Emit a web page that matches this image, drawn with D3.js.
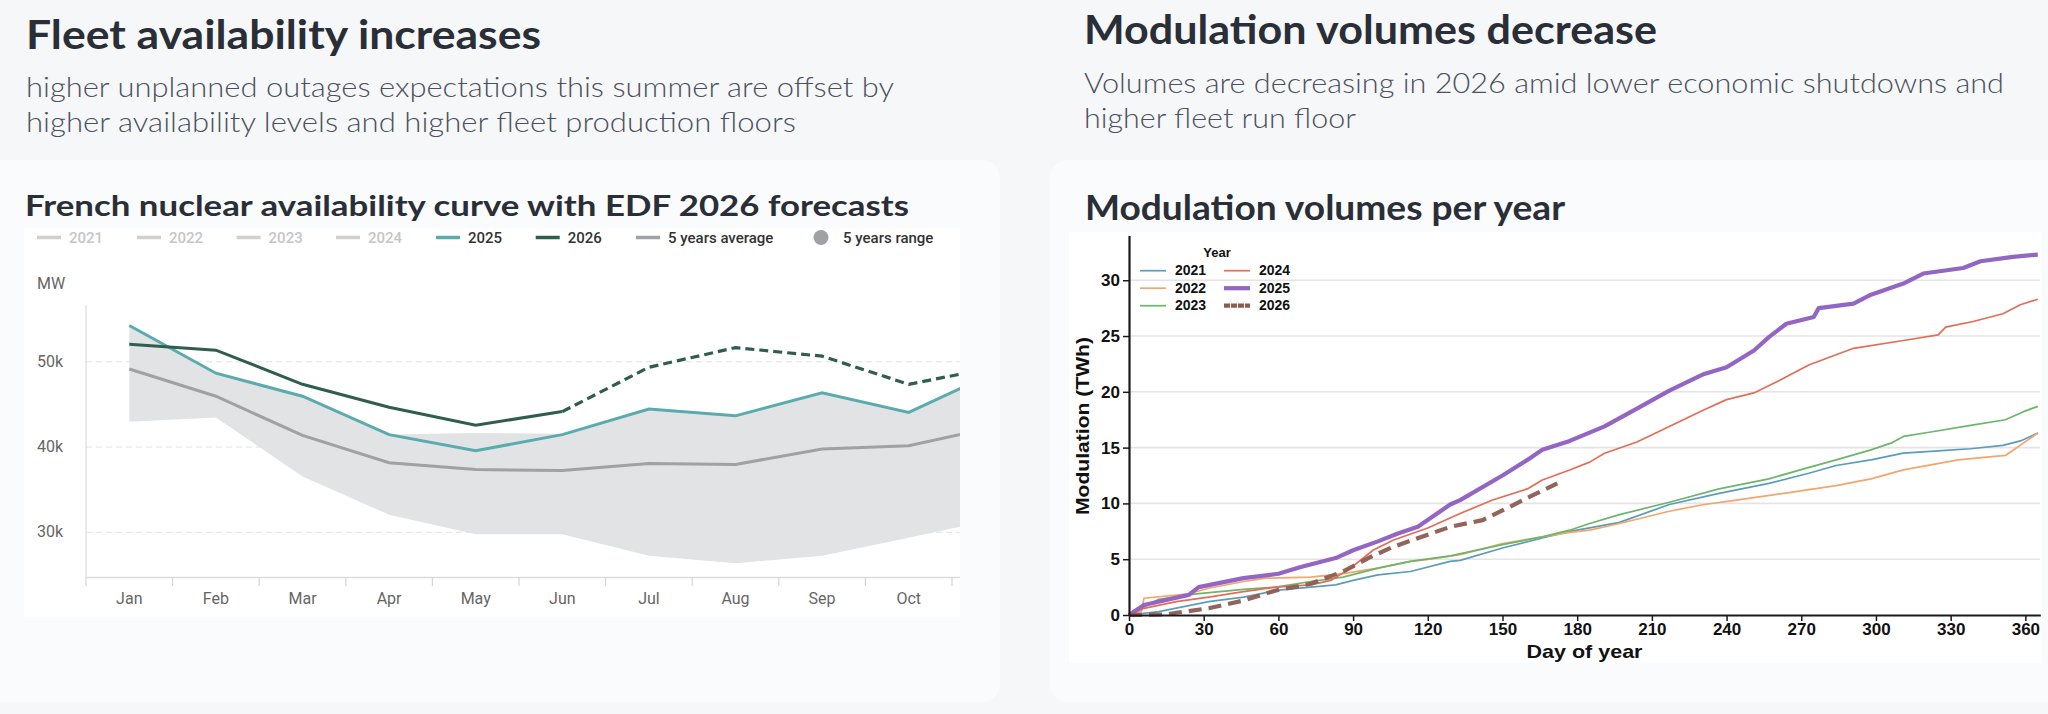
<!DOCTYPE html>
<html><head><meta charset="utf-8">
<script src="https://cdn.jsdelivr.net/npm/d3@7"></script>
<style>body{margin:0;background:#f6f7f9;} svg{display:block}</style>
</head><body>
<svg id="c" width="2048" height="714"></svg>
<script>
// ---------------- DATA : left chart (MW) ----------------
const months = ["Jan","Feb","Mar","Apr","May","Jun","Jul","Aug","Sep","Oct","Nov","Dec"];
const avail2025 = [54200,48600,45900,41400,39500,41400,44400,43600,46300,44000,48700];
const avail2026 = [52000,51300,47300,44600,42500,44100,49300,51600,50600,47300,49300];
const actual2026Count = 6; // Jan..Jun solid, rest EDF forecast (dashed)
const avg5 = [49100,45900,41300,38100,37300,37200,38000,37900,39700,40100,42300];
const rangeLow = [42900,43400,36500,32000,29700,29700,27200,26300,27200,29300,31500];
const rangeHigh = [54200,48600,45900,41400,41600,41500,44400,43600,46300,44000,48700];
const yTicksMW = [30000,40000,50000];
const legendLeft = ["2021","2022","2023","2024","2025","2026","5 years average","5 years range"];

// ---------------- DATA : right chart (cumulative TWh by day of year) ----------------
const mod2021 = [[0,0],[12,0.3],[32,1.2],[46,1.6],[59,2.2],[73,2.5],[83,2.7],[90,3.1],[100,3.6],[113,3.9],[129,4.8],[133,4.9],[150,6.0],[166,6.9],[177,7.5],[185,7.8],[197,8.3],[217,9.9],[237,10.9],[257,11.8],[273,12.7],[284,13.4],[298,13.9],[311,14.5],[325,14.7],[338,14.9],[351,15.2],[358,15.6],[365,16.3]];
const mod2022 = [[0,0],[5,0.3],[6,1.5],[24,1.9],[32,2.4],[46,3.0],[55,3.3],[73,3.4],[86,3.7],[100,4.2],[113,4.8],[121,5.0],[133,5.4],[150,6.4],[166,7.0],[177,7.4],[185,7.6],[197,8.2],[217,9.3],[231,9.9],[244,10.3],[263,10.9],[284,11.6],[298,12.2],[311,13.0],[333,13.9],[352,14.3],[365,16.3]];
const mod2023 = [[0,0],[5,0.6],[12,1.4],[27,1.9],[46,2.3],[59,2.5],[73,3.0],[86,3.4],[100,4.2],[113,4.8],[129,5.3],[150,6.3],[166,7.0],[177,7.6],[185,8.2],[197,9.0],[217,10.1],[237,11.3],[257,12.2],[271,13.1],[284,13.9],[298,14.8],[306,15.4],[311,16.0],[322,16.4],[338,17.0],[352,17.5],[359,18.2],[365,18.7]];
const mod2024 = [[0,0],[6,0.6],[19,1.2],[32,1.6],[46,2.1],[59,2.5],[73,2.7],[81,3.1],[89,4.2],[98,5.8],[106,6.7],[120,7.8],[133,9.1],[146,10.3],[160,11.3],[166,12.1],[177,13.0],[185,13.7],[191,14.5],[204,15.5],[217,16.9],[231,18.4],[240,19.3],[251,19.9],[261,21.0],[273,22.4],[291,23.9],[311,24.6],[325,25.1],[328,25.8],[339,26.3],[351,27.0],[358,27.8],[365,28.3]];
const mod2025 = [[0,0],[6,0.9],[24,1.8],[28,2.5],[46,3.3],[60,3.7],[69,4.3],[83,5.1],[90,5.8],[100,6.6],[108,7.3],[116,7.9],[129,9.9],[133,10.3],[150,12.5],[160,13.9],[166,14.8],[177,15.6],[191,16.9],[204,18.5],[217,20.1],[231,21.6],[240,22.2],[251,23.7],[257,24.9],[264,26.1],[275,26.7],[277,27.5],[291,27.9],[298,28.7],[311,29.7],[319,30.6],[335,31.1],[342,31.7],[355,32.1],[365,32.3]];
const mod2026 = [[0,0],[15,0.05],[19,0.2],[32,0.6],[46,1.3],[59,2.2],[73,2.8],[86,3.9],[97,5.2],[106,6.1],[120,7.2],[129,7.9],[142,8.5],[153,9.7],[161,10.6],[172,11.8]];
const modYears = ["2021","2022","2023","2024","2025","2026"];
const dayTicks = [0,30,60,90,120,150,180,210,240,270,300,330,360];
const twhTicks = [0,5,10,15,20,25,30];

// ---------------- DRAW ----------------
const svg = d3.select("#c");
const TITLE = "Lato, 'Noto Sans', sans-serif";
svg.append("rect").attr("width",2048).attr("height",714).attr("fill","#f6f7f9");

function txt(x,y,s,size,weight,color,len,family){
  const t = svg.append("text").attr("x",x).attr("y",y).text(s)
    .attr("font-family",family||TITLE).attr("font-size",size).attr("font-weight",weight).attr("fill",color);
  if(len) t.attr("textLength",len).attr("lengthAdjust","spacingAndGlyphs");
  return t;
}
// headers
txt(26,49,"Fleet availability increases",40,700,"#2a2e37",515);
txt(26,97,"higher unplanned outages expectations this summer are offset by",27,300,"#4b505c",868);
txt(26,132,"higher availability levels and higher fleet production floors",27,300,"#4b505c",770);
txt(1084,44,"Modulation volumes decrease",40,700,"#2a2e37",573);
txt(1084,93,"Volumes are decreasing in 2026 amid lower economic shutdowns and",27,300,"#4b505c",920);
txt(1084,128,"higher fleet run floor",27,300,"#4b505c",272);

// cards
svg.append("rect").attr("x",-20).attr("y",160).attr("width",1020).attr("height",542).attr("rx",18).attr("fill","#fafbfc");
svg.append("rect").attr("x",1050).attr("y",160).attr("width",1030).attr("height",542).attr("rx",18).attr("fill","#fafbfc");
txt(25,216,"French nuclear availability curve with EDF 2026 forecasts",29,700,"#2a2e37",884);
txt(1085,220,"Modulation volumes per year",35,700,"#2a2e37",480);
svg.append("rect").attr("x",24).attr("y",228).attr("width",936).attr("height",389).attr("fill","#fff");
svg.append("rect").attr("x",1069).attr("y",232).attr("width",973).attr("height",431).attr("fill","#fff");

// ======== LEFT CHART ========
const LF = "Roboto, 'Noto Sans', sans-serif";
const xL = d3.scaleBand().domain(months).range([86, 86+12*86.6]);
const yL = d3.scaleLinear().domain([24700,56600]).range([577,305]);
const cx = (i)=> xL(months[i]) + xL.bandwidth()/2;
const left = svg.append("g");
svg.append("defs").append("clipPath").attr("id","clipL").append("rect")
  .attr("x",60).attr("y",228).attr("width",900).attr("height",400);

// y axis with gridlines
const yAx = left.append("g").attr("transform","translate(86,0)")
  .call(d3.axisLeft(yL).tickValues(yTicksMW).tickSize(-874).tickPadding(23).tickFormat(d=>d/1000+"k"));
yAx.select(".domain").remove();
yAx.selectAll(".tick line").attr("stroke","#e2e2e2").attr("stroke-dasharray","6,4");
yAx.selectAll(".tick text").attr("font-family",LF).attr("font-size",16).attr("fill","#666");
left.append("line").attr("x1",86).attr("x2",86).attr("y1",305).attr("y2",577).attr("stroke","#e3e3e3").attr("stroke-width",1.5);
txt(37,289,"MW",16,400,"#666",null,LF);

// x axis labels (clipped wrapper without transform)
const xWrap = left.append("g").attr("clip-path","url(#clipL)");
const xAx = xWrap.append("g").attr("transform","translate(0,577)")
  .call(d3.axisBottom(xL).tickSize(0).tickSizeOuter(0));
xAx.select(".domain").attr("stroke","#dcdcdc").attr("stroke-width",1.5);
xAx.selectAll(".tick text").attr("font-family",LF).attr("font-size",16).attr("fill","#666").attr("dy",null).attr("y",27);
// boundary ticks
xWrap.append("g").selectAll("line").data(months).join("line")
  .attr("x1",d=>xL(d)).attr("x2",d=>xL(d)).attr("y1",577).attr("y2",586).attr("stroke","#d6d6d6").attr("stroke-width",1.2);

const plotL = left.append("g").attr("clip-path","url(#clipL)");
const area = d3.area().x((d,i)=>cx(i)).y0((d,i)=>yL(rangeLow[i])).y1(d=>yL(d));
plotL.append("path").datum(rangeHigh).attr("d",area).attr("fill","#e1e3e5");
const lineL = d3.line().x(d=>cx(d[0])).y(d=>yL(d[1]));
const idx = a => a.map((v,i)=>[i,v]);
plotL.append("path").datum(idx(avg5)).attr("d",lineL).attr("fill","none").attr("stroke","#9fa1a4").attr("stroke-width",3);
plotL.append("path").datum(idx(avail2025)).attr("d",lineL).attr("fill","none").attr("stroke","#5aabae").attr("stroke-width",3);
plotL.append("path").datum(idx(avail2026).slice(0,actual2026Count)).attr("d",lineL).attr("fill","none").attr("stroke","#2f5e4c").attr("stroke-width",3);
plotL.append("path").datum(idx(avail2026).slice(actual2026Count-1)).attr("d",lineL).attr("fill","none").attr("stroke","#2f5e4c").attr("stroke-width",3.2).attr("stroke-dasharray","9,5");

// legend
const legX = [37,137,236.6,336,436,535.7,636,821];
const legCol = ["#cfcfcf","#cfcfcf","#cfcfcf","#cfcfcf","#5aabae","#2f5e4c","#9fa1a4","#9fa1a4"];
const legTxt = ["#c6c6c6","#c6c6c6","#c6c6c6","#c6c6c6","#333","#333","#333","#333"];
const lg = left.append("g");
legendLeft.forEach((name,i)=>{
  if(i<7){
    lg.append("line").attr("x1",legX[i]).attr("x2",legX[i]+24).attr("y1",237.5).attr("y2",237.5)
      .attr("stroke",legCol[i]).attr("stroke-width",3.5);
    lg.append("text").attr("x",legX[i]+32).attr("y",243).text(name)
      .attr("font-family",LF).attr("font-size",15).attr("font-weight",500).attr("fill",legTxt[i]);
  } else {
    lg.append("circle").attr("cx",legX[i]).attr("cy",237.5).attr("r",7.5).attr("fill",legCol[i]);
    lg.append("text").attr("x",843).attr("y",243).text(name)
      .attr("font-family",LF).attr("font-size",15).attr("font-weight",500).attr("fill",legTxt[i]);
  }
});

// ======== RIGHT CHART ========
const RF = "'Liberation Sans', Arial, sans-serif";
const xR = d3.scaleLinear().domain([0,366]).range([1129,2040.3]);
const yR = d3.scaleLinear().domain([0,34]).range([615,235.6]);
const right = svg.append("g");
right.append("g").selectAll("line").data(twhTicks.filter(d=>d>0)).join("line")
  .attr("x1",1129).attr("x2",2040).attr("y1",d=>yR(d)).attr("y2",d=>yR(d))
  .attr("stroke","#e4e4e4").attr("stroke-width",1.6);

const colors = {"2021":"#5b9db8","2022":"#f4a56c","2023":"#6cb56b","2024":"#e36d57","2025":"#9466c3","2026":"#8d5c50"};
const series = {"2021":mod2021,"2022":mod2022,"2023":mod2023,"2024":mod2024,"2025":mod2025,"2026":mod2026};
const lineR = d3.line().x(d=>xR(d[0])).y(d=>yR(d[1]));
["2021","2022","2023","2024"].forEach(y=>{
  right.append("path").datum(series[y]).attr("d",lineR).attr("fill","none")
    .attr("stroke",colors[y]).attr("stroke-width",1.7).attr("stroke-linejoin","round");
});
right.append("path").datum(mod2025).attr("d",lineR).attr("fill","none").attr("stroke",colors["2025"]).attr("stroke-width",4.2).attr("stroke-linejoin","round");
right.append("path").datum(mod2026).attr("d",lineR).attr("fill","none").attr("stroke",colors["2026"]).attr("stroke-width",4.2).attr("stroke-dasharray","13,7").attr("opacity",0.95);

const yAxR = right.append("g").attr("transform","translate(1129,0)")
  .call(d3.axisLeft(yR).tickValues(twhTicks).tickSize(6).tickPadding(3).tickSizeOuter(0));
const xAxR = right.append("g").attr("transform","translate(0,615)")
  .call(d3.axisBottom(xR).tickValues(dayTicks).tickSize(6).tickPadding(2).tickSizeOuter(0));
[yAxR,xAxR].forEach(a=>{
  a.select(".domain").attr("stroke","#1a1a1a").attr("stroke-width",2.2);
  a.selectAll(".tick line").attr("stroke","#1a1a1a").attr("stroke-width",1.5);
  a.selectAll(".tick text").attr("font-family",RF).attr("font-size",17).attr("font-weight",700).attr("fill","#111");
});
txt(1584.5,658,"Day of year",19,700,"#111",116,RF).attr("text-anchor","middle");
svg.append("text").attr("transform","translate(1089,426) rotate(-90)").attr("text-anchor","middle")
  .text("Modulation (TWh)").attr("font-family",RF).attr("font-size",18).attr("font-weight",700).attr("fill","#111")
  .attr("textLength",178).attr("lengthAdjust","spacingAndGlyphs");

// right legend
const lgR = right.append("g");
lgR.append("text").attr("x",1217).attr("y",257).attr("text-anchor","middle").text("Year")
  .attr("font-family",RF).attr("font-size",13).attr("font-weight",700).attr("fill","#111");
modYears.forEach((y,i)=>{
  const col = Math.floor(i/3), row = i%3;
  const lx = col? 1224:1140, ly = 270.7 + row*17.5;
  const l = lgR.append("line").attr("x1",lx).attr("x2",lx+26).attr("y1",ly).attr("y2",ly)
    .attr("stroke",colors[y]).attr("stroke-width",(y=="2025"||y=="2026")?4.2:1.7);
  if(y=="2026") l.attr("stroke-dasharray","6,1");
  lgR.append("text").attr("x",lx+35).attr("y",ly+4.5).text(y)
    .attr("font-family",RF).attr("font-size",14).attr("font-weight",700).attr("fill","#111");
});
</script>
</body></html>
